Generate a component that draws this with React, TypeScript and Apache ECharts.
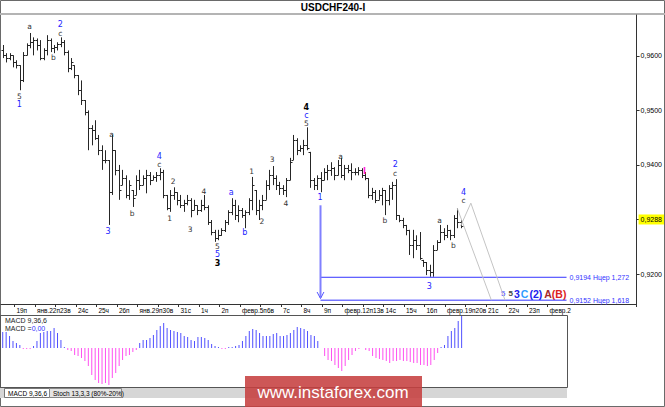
import React, { useEffect, useRef } from 'react';
import * as echarts from 'echarts';

// ---- tick labels of the time axis (one per trading day, every 6 bars of H4); '' = tick whose text is merged into the previous one
const dayLabels = ['19п','янв.22п23в','','24с','25ч','26п','янв.29п30в','','31с','1ч','2п','февр.5п6в','','7с','8ч','9п','февр.12п13в','','14с','15ч','16п','февр.19п20в','','21с','22ч','23п','февр.2'];

// ---- USDCHF H4 bars
const openP = [
  0.9610,0.9601,0.9596,0.9601,0.9588,0.9583,0.9555,0.9601,0.9620,0.9625,
  0.9629,0.9620,0.9596,0.9610,0.9629,0.9614,0.9616,0.9621,0.9625,0.9607,
  0.9577,0.9583,0.9565,0.9537,0.9519,0.9497,0.9468,0.9464,0.9449,0.9427,
  0.9409,0.9409,0.9350,0.9427,0.9391,0.9363,0.9376,0.9345,0.9354,0.9345,
  0.9372,0.9363,0.9376,0.9381,0.9372,0.9378,0.9381,0.9387,0.9345,0.9321,
  0.9345,0.9350,0.9336,0.9326,0.9330,0.9336,0.9317,0.9326,0.9317,0.9326,
  0.9323,0.9295,0.9277,0.9266,0.9271,0.9281,0.9295,0.9314,0.9326,0.9308,
  0.9317,0.9308,0.9314,0.9336,0.9354,0.9317,0.9326,0.9336,0.9363,0.9381,
  0.9376,0.9363,0.9358,0.9354,0.9372,0.9409,0.9446,0.9427,0.9431,0.9436,
  0.9424,0.9372,0.9363,0.9376,0.9372,0.9387,0.9391,0.9394,0.9381,0.9400,
  0.9381,0.9394,0.9391,0.9387,0.9387,0.9391,0.9381,0.9376,0.9345,0.9350,
  0.9336,0.9345,0.9354,0.9336,0.9358,0.9363,0.9308,0.9299,0.9290,0.9281,
  0.9253,0.9262,0.9253,0.9226,0.9222,0.9207,0.9204,0.9244,0.9259,0.9277,
  0.9271,0.9281,0.9271,0.9303,0.9295
];
const highP = [
  0.9620,0.9605,0.9605,0.9601,0.9592,0.9583,0.9607,0.9623,0.9642,0.9634,
  0.9632,0.9629,0.9614,0.9638,0.9632,0.9620,0.9625,0.9634,0.9629,0.9610,
  0.9596,0.9583,0.9565,0.9555,0.9519,0.9500,0.9473,0.9482,0.9455,0.9436,
  0.9427,0.9409,0.9455,0.9427,0.9400,0.9391,0.9381,0.9372,0.9354,0.9381,
  0.9391,0.9381,0.9391,0.9387,0.9381,0.9387,0.9394,0.9391,0.9345,0.9354,
  0.9359,0.9350,0.9345,0.9336,0.9345,0.9339,0.9336,0.9326,0.9336,0.9345,
  0.9326,0.9299,0.9281,0.9281,0.9284,0.9299,0.9317,0.9339,0.9336,0.9326,
  0.9321,0.9317,0.9339,0.9378,0.9354,0.9336,0.9345,0.9372,0.9391,0.9398,
  0.9381,0.9369,0.9363,0.9376,0.9413,0.9455,0.9449,0.9436,0.9446,0.9469,
  0.9424,0.9376,0.9381,0.9387,0.9394,0.9400,0.9405,0.9396,0.9409,0.9413,
  0.9400,0.9400,0.9403,0.9394,0.9396,0.9394,0.9387,0.9376,0.9358,0.9354,
  0.9354,0.9358,0.9354,0.9363,0.9369,0.9374,0.9308,0.9303,0.9290,0.9281,
  0.9281,0.9271,0.9277,0.9226,0.9222,0.9217,0.9253,0.9262,0.9290,0.9284,
  0.9290,0.9281,0.9308,0.9321,0.9299
];
const lowP = [
  0.9596,0.9588,0.9592,0.9579,0.9577,0.9537,0.9552,0.9601,0.9614,0.9601,
  0.9610,0.9592,0.9592,0.9601,0.9607,0.9605,0.9610,0.9616,0.9601,0.9570,
  0.9574,0.9559,0.9528,0.9510,0.9491,0.9427,0.9436,0.9446,0.9418,0.9391,
  0.9403,0.9290,0.9345,0.9381,0.9336,0.9363,0.9339,0.9336,0.9323,0.9345,
  0.9354,0.9363,0.9348,0.9363,0.9372,0.9369,0.9372,0.9339,0.9317,0.9314,
  0.9336,0.9326,0.9321,0.9314,0.9326,0.9304,0.9317,0.9308,0.9314,0.9317,
  0.9290,0.9271,0.9259,0.9262,0.9270,0.9277,0.9290,0.9308,0.9299,0.9295,
  0.9303,0.9284,0.9308,0.9317,0.9308,0.9299,0.9317,0.9336,0.9354,0.9363,
  0.9354,0.9345,0.9345,0.9341,0.9372,0.9409,0.9418,0.9424,0.9418,0.9427,
  0.9358,0.9354,0.9354,0.9350,0.9372,0.9372,0.9380,0.9372,0.9381,0.9376,
  0.9372,0.9385,0.9372,0.9381,0.9381,0.9376,0.9372,0.9339,0.9336,0.9330,
  0.9336,0.9326,0.9308,0.9326,0.9336,0.9299,0.9295,0.9284,0.9271,0.9235,
  0.9229,0.9244,0.9226,0.9213,0.9198,0.9195,0.9195,0.9244,0.9257,0.9262,
  0.9266,0.9262,0.9266,0.9284,0.9284
];
const closeP = [
  0.9601,0.9596,0.9601,0.9588,0.9583,0.9555,0.9601,0.9620,0.9625,0.9629,
  0.9620,0.9596,0.9610,0.9629,0.9614,0.9616,0.9621,0.9625,0.9607,0.9577,
  0.9588,0.9565,0.9537,0.9519,0.9497,0.9468,0.9464,0.9449,0.9427,0.9409,
  0.9409,0.9350,0.9427,0.9391,0.9354,0.9376,0.9345,0.9363,0.9339,0.9372,
  0.9363,0.9376,0.9381,0.9372,0.9378,0.9381,0.9387,0.9345,0.9321,0.9345,
  0.9350,0.9336,0.9326,0.9330,0.9336,0.9317,0.9326,0.9317,0.9326,0.9323,
  0.9295,0.9277,0.9266,0.9271,0.9281,0.9295,0.9314,0.9326,0.9308,0.9317,
  0.9308,0.9314,0.9336,0.9363,0.9317,0.9326,0.9336,0.9363,0.9381,0.9376,
  0.9363,0.9358,0.9354,0.9372,0.9405,0.9446,0.9427,0.9431,0.9436,0.9431,
  0.9372,0.9363,0.9376,0.9372,0.9387,0.9391,0.9394,0.9381,0.9400,0.9381,
  0.9394,0.9391,0.9387,0.9387,0.9391,0.9381,0.9376,0.9345,0.9350,0.9336,
  0.9345,0.9354,0.9336,0.9358,0.9363,0.9308,0.9299,0.9290,0.9281,0.9253,
  0.9262,0.9253,0.9229,0.9222,0.9207,0.9204,0.9244,0.9259,0.9277,0.9271,
  0.9281,0.9271,0.9303,0.9295,0.9288
];

// ---- MACD(9,36,6) histogram
const macdHist = [
  0.0016,0.0016,0.0012,0.0007,0.0005,0.0003,-0.0001,-0.0001,-0.0001,0.0002,
  0.0007,0.0015,0.0016,0.0017,0.0017,0.0020,0.0015,0.0008,0.0001,-0.0002,
  -0.0003,-0.0007,-0.0008,-0.0010,-0.0013,-0.0018,-0.0027,-0.0032,-0.0035,-0.0036,
  -0.0035,-0.0037,-0.0030,-0.0025,-0.0018,-0.0012,-0.0008,-0.0007,-0.0004,-0.0002,
  0.0005,0.0008,0.0008,0.0010,0.0013,0.0018,0.0022,0.0025,0.0020,0.0018,
  0.0017,0.0016,0.0015,0.0012,0.0011,0.0008,0.0007,0.0011,0.0011,0.0010,
  0.0008,0.0004,0.0002,0.0001,-0.0001,-0.0001,0.0001,0.0001,0.0002,0.0003,
  0.0007,0.0012,0.0017,0.0019,0.0018,0.0015,0.0012,0.0012,0.0012,0.0014,
  0.0015,0.0012,0.0012,0.0013,0.0015,0.0018,0.0021,0.0020,0.0019,0.0017,
  0.0013,0.0012,0.0007,0.0000,
  -0.0008,-0.0012,-0.0013,-0.0017,-0.0020,-0.0023,-0.0018,-0.0012,-0.0007,-0.0003,
  -0.0001,0.0000,-0.0002,-0.0003,-0.0008,-0.0010,-0.0011,-0.0012,-0.0013,-0.0015,
  -0.0013,-0.0013,-0.0012,-0.0013,-0.0013,-0.0014,-0.0015,-0.0015,-0.0017,-0.0017,
  -0.0018,-0.0017,-0.0012,-0.0005,0.0001,0.0003,0.0012,0.0017,0.0020,0.0027,
  0.0032
];

// ---- Fibonacci expansion targets
const fibLevels = [0.9194, 0.9152];
const fibTexts = ['0,9194 Нцер 1,272', '0,9152 Нцер 1,618'];
const fibFrom = 93;
const fibTo = 165;
const lastPrice = 0.9288;

// ---- projected path of the count
const projA = [[133, 0.9321], [143, 0.9152]];
const projB = [[134, 0.9288], [137, 0.9330], [147, 0.9152]];
const arrowLine = [[93, 0.9326], [93, 0.9157]];
const arrowHead = [[92, 0.9167], [93, 0.9155], [94, 0.9167]];

// ---- wave labels
const waveText = ['a','2','c','b','5','1','a','3','b','4','c','2','1','3','4','5','5','3','a','b','1','2','3','4','4','c','5','1','a','2','c','b','3','a','b','4','c','I'];
const waveIdx = [8,17,17,15,5,5,32,31,38,46,46,50,49,55,59,63,63,63,67,71,73,76,79,83,89,89,89,93,99,115,115,112,125,128,132,135,135,106];
const wavePrice = [0.9653,0.9656,0.9641,0.9596,0.9525,0.9510,0.9455,0.9277,0.9310,0.9415,0.9400,0.9369,0.9301,0.9281,0.9350,0.9249,0.9234,0.9219,0.9348,0.9275,0.9387,0.9295,0.9409,0.9328,0.9505,0.9490,0.9475,0.9339,0.9414,0.9399,0.9384,0.9297,0.9176,0.9297,0.9251,0.9349,0.9334,0.9387];
const waveKind = ['d','b','d','d','d','b','d','b','d','b','d','d','d','d','d','d','b','k','b','b','d','d','d','d','k','b','d','b','d','b','d','d','b','d','d','b','d','p'];

const FONT = 'Liberation Sans, Arial, sans-serif';
const LABEL_FONT = 'DejaVu Sans, Verdana, sans-serif';

export default function App() {
  const ref = useRef<HTMLDivElement>(null);
  useEffect(() => {
    const chart = echarts.init(ref.current as HTMLDivElement, null, { renderer: 'svg' });
    const N = 186;
    const cats = Array.from({ length: N }, (_, i) => String(i));
    const showTick = (i: number) => i >= 4 && i <= 160 && (i - 4) % 6 === 0;
    const showLabel = (i: number) => showTick(i) && dayLabels[(i - 4) / 6] !== '';
    const ohlc = openP.map((o, i) => [i, o, highP[i], lowP[i], closeP[i]]);

    const kindStyle: any = {
      d: { color: '#333333', fontSize: 7.5 },
      b: { color: '#2323ff', fontSize: 8 },
      k: { color: '#000000', fontSize: 8, fontWeight: 'bold' },
      p: { color: '#ff22dd', fontSize: 8, fontWeight: 'bold' },
    };
    const waveData = waveText.map((t, k) => ({
      value: [waveIdx[k], wavePrice[k]],
      label: {
        show: true, position: [0, 0], align: 'center', verticalAlign: 'middle', formatter: t, opacity: 1,
        fontFamily: LABEL_FONT, textBorderWidth: 0, ...kindStyle[waveKind[k]],
      },
    }));

    const thin = (color: string, width = 1) => ({ color, width });
    const clear = { color: 'rgba(0,0,0,0)' };

    const option: any = {
      animation: false,
      backgroundColor: '#ffffff',
      textStyle: { fontFamily: FONT },
      grid: [
        { left: 1, right: 27, top: 15, bottom: 103 },
        { left: 1, right: 27, top: 316, bottom: 20 },
      ],
      xAxis: [
        {
          type: 'category', gridIndex: 0, data: cats, boundaryGap: true,
          axisLine: { show: true, lineStyle: { color: '#333' } },
          axisTick: { show: true, length: 3, interval: (i: number) => showTick(i), lineStyle: { color: '#333' } },
          axisLabel: {
            show: true, interval: (i: number) => showLabel(i), fontSize: 6.5, color: '#000', align: 'left', margin: 3,
            formatter: (v: string) => { const i = +v; return showLabel(i) ? dayLabels[(i - 4) / 6] : ''; },
          },
          splitLine: { show: false },
        },
        {
          type: 'category', gridIndex: 1, data: cats, boundaryGap: true,
          axisLine: { show: false }, axisTick: { show: false }, axisLabel: { show: false }, splitLine: { show: false },
        },
      ],
      yAxis: [
        {
          type: 'value', gridIndex: 0, position: 'right', min: 0.9145, max: 0.9675, splitNumber: 5,
          axisLine: { show: true, lineStyle: { color: '#333' } },
          axisTick: { show: true, length: 3, lineStyle: { color: '#333' } },
          axisLabel: {
            fontSize: 7, color: '#000', margin: 4, showMinLabel: false, showMaxLabel: false,
            formatter: (v: number) => (Math.abs(v * 100 - Math.round(v * 100)) < 1e-6 ? v.toFixed(4).replace('.', ',') : ''),
          },
          splitLine: { show: false },
        },
        {
          type: 'value', gridIndex: 1, min: -0.0039, max: 0.0032, show: false, splitLine: { show: false },
        },
      ],
      series: [
        {
          type: 'custom', xAxisIndex: 0, yAxisIndex: 0, data: ohlc, encode: { x: 0, y: [1, 2, 3, 4] },
          renderItem: (params: any, api: any) => {
            const i = api.value(0);
            const o = api.coord([i, api.value(1)]);
            const h = api.coord([i, api.value(2)]);
            const l = api.coord([i, api.value(3)]);
            const c = api.coord([i, api.value(4)]);
            const x = Math.round(h[0]) + 0.5;
            const st = { stroke: '#262626', lineWidth: 1 };
            return {
              type: 'group',
              children: [
                { type: 'line', shape: { x1: x, y1: h[1], x2: x, y2: l[1] }, style: st },
                { type: 'line', shape: { x1: x - 2, y1: Math.round(o[1]) + 0.5, x2: x, y2: Math.round(o[1]) + 0.5 }, style: st },
                { type: 'line', shape: { x1: x, y1: Math.round(c[1]) + 0.5, x2: x + 2, y2: Math.round(c[1]) + 0.5 }, style: st },
              ],
            };
          },
        },
        ...fibLevels.map((lv, k) => ({
          type: 'line', xAxisIndex: 0, yAxisIndex: 0, silent: true, symbol: 'none',
          data: [[fibFrom, lv], [fibTo, lv]],
          lineStyle: thin('#3333ff'),
          endLabel: { show: true, formatter: fibTexts[k], color: '#3333ff', fontSize: 7, distance: 3 },
        })),
        {
          type: 'line', xAxisIndex: 0, yAxisIndex: 0, silent: true, symbol: 'none', data: [],
          markLine: {
            silent: true, symbol: ['none', 'none'], data: [{ yAxis: lastPrice }],
            lineStyle: { width: 0, color: 'rgba(0,0,0,0)' },
            label: {
              show: true, position: 'end', formatter: '0,9288', backgroundColor: '#ffff00', color: '#000',
              fontSize: 7, padding: [2, 2, 1, 2], distance: 2,
            },
          },
        },
        {
          type: 'line', xAxisIndex: 0, yAxisIndex: 0, silent: true, symbol: 'none', data: projA,
          lineStyle: thin('#c4c4c4'),
        },
        {
          type: 'line', xAxisIndex: 0, yAxisIndex: 0, silent: true, symbol: 'none', data: projB,
          lineStyle: thin('#c4c4c4'),
        },
        {
          type: 'line', xAxisIndex: 0, yAxisIndex: 0, silent: true, symbol: 'none', data: arrowLine,
          lineStyle: thin('#8080ff', 2),
        },
        {
          type: 'line', xAxisIndex: 0, yAxisIndex: 0, silent: true, symbol: 'none', data: arrowHead,
          lineStyle: thin('#5555ff', 1),
        },
        {
          type: 'scatter', xAxisIndex: 0, yAxisIndex: 0, silent: true, symbolSize: 1,
          itemStyle: clear, data: waveData,
        },
        {
          type: 'scatter', xAxisIndex: 0, yAxisIndex: 0, silent: true, symbolSize: 1,
          itemStyle: clear,
          data: [{
            value: [146, 0.9163],
            label: {
              show: true, position: [0, 0], align: 'left', verticalAlign: 'middle', textBorderWidth: 0, opacity: 1,
              formatter: '{s|5}{d|5}{b|3}{c|C}{b2|(2)}{a|A}{r|(B)}',
              rich: {
                s: { color: '#3a3aff', fontSize: 8, fontFamily: FONT },
                d: { color: '#444444', fontSize: 8, fontWeight: 'bold', fontFamily: FONT, padding: [0, 0, 0, 3] },
                b: { color: '#2020ee', fontSize: 10.5, fontWeight: 'bold', fontFamily: FONT, padding: [0, 0, 0, 1] },
                c: { color: '#2e9cff', fontSize: 10.5, fontWeight: 'bold', fontFamily: FONT, padding: [0, 0, 0, 1] },
                b2: { color: '#2020ee', fontSize: 10.5, fontWeight: 'bold', fontFamily: FONT, padding: [0, 0, 0, 1] },
                a: { color: '#a52a2a', fontSize: 10.5, fontWeight: 'bold', fontFamily: FONT, padding: [0, 0, 0, 2] },
                r: { color: '#dd2222', fontSize: 10.5, fontWeight: 'bold', fontFamily: FONT, padding: [0, 0, 0, 0] },
              },
            },
          }],
        },
        {
          type: 'bar', xAxisIndex: 1, yAxisIndex: 1, barWidth: 1, silent: true,
          data: macdHist.map((v) => ({ value: v, itemStyle: { color: v >= 0 ? '#5050ff' : '#ff50f0' } })),
        },
      ],
      graphic: [
        { type: 'rect', shape: { x: 0.5, y: 0.5, width: 664, height: 406 }, style: { fill: 'none', stroke: '#6a6a6a', lineWidth: 1 }, silent: true },
        { type: 'text', x: 333, y: 7, style: { text: 'USDCHF240-I', font: 'bold 10px ' + FONT, fill: '#000', align: 'center', verticalAlign: 'middle' } },
        { type: 'line', shape: { x1: 0, y1: 14, x2: 665, y2: 14 }, style: { stroke: '#b4b4b4', lineWidth: 2 } },
        { type: 'rect', shape: { x: 0.5, y: 315.5, width: 567, height: 72 }, style: { fill: 'none', stroke: '#555', lineWidth: 1 }, silent: true },
        { type: 'text', x: 5, y: 320, style: { text: 'MACD 9,36,6', font: '7px ' + FONT, fill: '#222', verticalAlign: 'middle' } },
        {
          type: 'text', x: 5, y: 328,
          style: { text: '{k|MACD =}{v|0,00}', rich: { k: { fill: '#222', font: '7px ' + FONT }, v: { fill: '#3333ff', font: '7px ' + FONT } }, verticalAlign: 'middle' },
        },
        { type: 'rect', shape: { x: 0, y: 388, width: 567, height: 10 }, style: { fill: '#d6d6d6' }, silent: true },
        { type: 'rect', shape: { x: 4.5, y: 388.5, width: 45, height: 9 }, style: { fill: '#ffffff', stroke: '#777' }, silent: true },
        { type: 'text', x: 8, y: 393, style: { text: 'MACD 9,36,6', font: '6.5px ' + FONT, fill: '#000', verticalAlign: 'middle' } },
        { type: 'rect', shape: { x: 49.5, y: 388.5, width: 72, height: 9 }, style: { fill: '#e4e4e4', stroke: '#888' }, silent: true },
        { type: 'text', x: 53, y: 393, style: { text: 'Stoch 13,3,3 (80%-20%)', font: '6.5px ' + FONT, fill: '#000', verticalAlign: 'middle' } },
        { type: 'rect', shape: { x: 245, y: 376, width: 177, height: 31 }, style: { fill: 'rgba(198,64,64,0.88)' }, silent: true },
        { type: 'text', x: 333, y: 392, style: { text: 'www.instaforex.com', font: '17px ' + FONT, fill: '#ffffff', align: 'center', verticalAlign: 'middle' } },
      ],
    };
    chart.setOption(option);
    return () => chart.dispose();
  }, []);
  return <div ref={ref} style={{ position: 'fixed', left: 0, top: 0, width: 665, height: 407, background: '#fff' }} />;
}
